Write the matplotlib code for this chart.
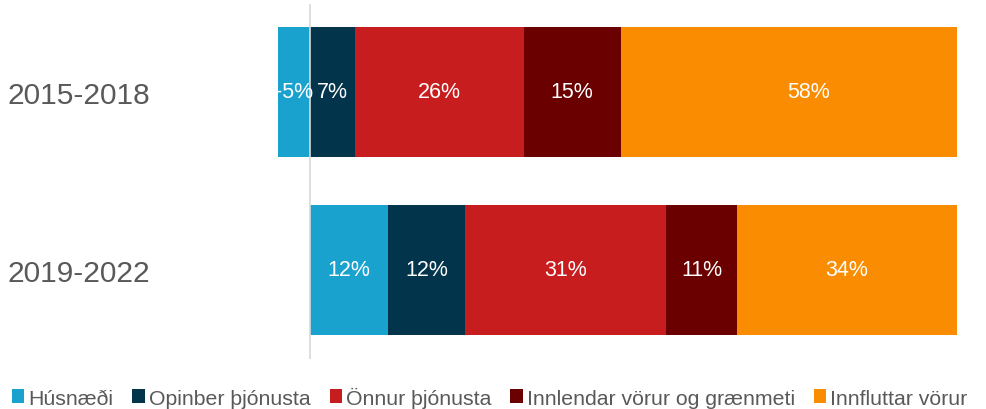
import matplotlib
matplotlib.use("Agg")
from matplotlib import pyplot as plt
import numpy as np

periods = ['2015-2018', '2019-2022']
series  = ['Húsnæði', 'Opinber þjónusta', 'Önnur þjónusta', 'Innlendar vörur og grænmeti', 'Innfluttar vörur']
values  = [[-5, 12],
           [7, 12],
           [26, 31],
           [15, 11],
           [58, 34]]
colors  = ['#1AA2CF', '#02344C', '#C81D1E', '#6B0000', '#F98C00']

font = ['Liberation Sans', 'DejaVu Sans']
grey = '#595959'

fig = plt.figure(figsize=(9.86, 4.10), dpi=100)
ax = fig.add_axes([274 / 986, 1 - 360 / 410, (957 - 274) / 986, 355 / 410])

y = np.arange(len(periods))
pos = np.zeros(len(periods))
neg = np.zeros(len(periods))
for i in range(len(series)):
    v = np.array(values[i], dtype=float)
    left = np.where(v >= 0, pos, neg + v)
    ax.barh(y, np.abs(v), left=left, height=0.73, color=colors[i], label=series[i], zorder=2)
    for j in range(len(periods)):
        ax.text(left[j] + abs(v[j]) / 2, y[j], f'{int(v[j])}%', ha='center', va='center',
                color='white', fontsize=15.5, family=font, zorder=4)
    pos = np.where(v >= 0, pos + v, pos)
    neg = np.where(v < 0, neg + v, neg)

ax.axvline(0, color='#d9d9d9', lw=1.2, zorder=3)
ax.set_xlim(-5.6, 100)
ax.set_ylim(1.5, -0.494)
ax.set_xticks([])
ax.set_yticks(y)
ax.set_yticklabels(periods, fontsize=21.5, color=grey, family=font)
ax.tick_params(axis='y', length=0, pad=89)
for s in ax.spines.values():
    s.set_visible(False)

fig.legend(loc='center left', bbox_to_anchor=(12 / 986, 12 / 410), ncol=5, frameon=False,
           prop={'family': font, 'size': 15.3},
           labelcolor=grey, handlelength=0.57, handleheight=0.57, handletextpad=0.2,
           columnspacing=0.9, borderpad=0, borderaxespad=0)

fig.savefig('out.png', dpi=100)
